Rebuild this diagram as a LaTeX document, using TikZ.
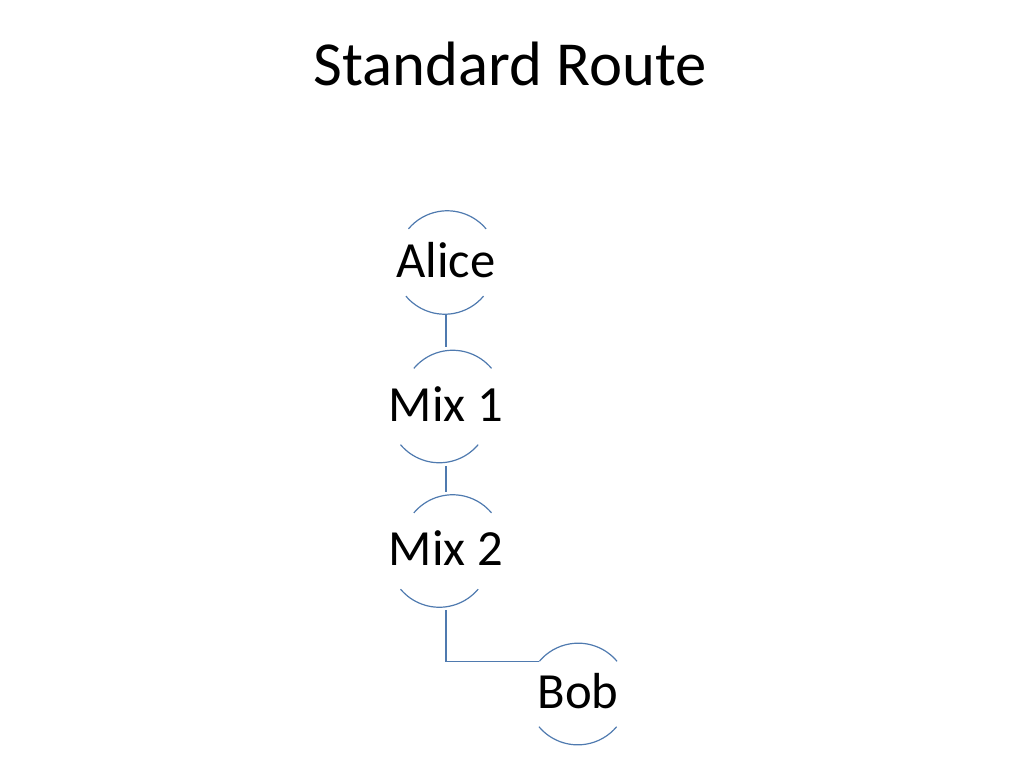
\documentclass[tikz,border=0pt]{standalone}
\usepackage{fontspec}
\setmainfont{Carlito}
\definecolor{linec}{RGB}{79,122,175}
\begin{document}
\begin{tikzpicture}[x=0.75pt,y=-0.75pt,
  peer/.style={circle,minimum size=76pt,inner sep=0pt,draw=none,
    font=\fontsize{38}{40}\selectfont,text height=23pt,text depth=1.25pt},
  arcs/.style={draw=linec,line width=0.9pt},
  conn/.style={draw=linec,line width=0.9pt}]
\useasboundingbox (0,0) rectangle (1024,768);
\node[anchor=base,font=\fontsize{47}{52}\selectfont] (title) at (510,85) {Standard Route};
\node[peer] (alice) at (446,262.5) {Alice};
\node[peer] (mix1) at (446,406.5) {Mix 1};
\node[peer] (mix2) at (446,551) {Mix 2};
\node[peer] (bob) at (578,694) {Bob};
\foreach \n in {alice,mix1,mix2,bob}{
  \draw[arcs] (\n.40) arc[start angle=40,end angle=140,radius=38pt];
  \draw[arcs] (\n.220) arc[start angle=220,end angle=320,radius=38pt];
}
\draw[conn] (alice.south) -- (mix1.north);
\draw[conn] (mix1.south) -- (mix2.north);
\draw[conn] (mix2.south) |- (bob.140);
\end{tikzpicture}
\end{document}
